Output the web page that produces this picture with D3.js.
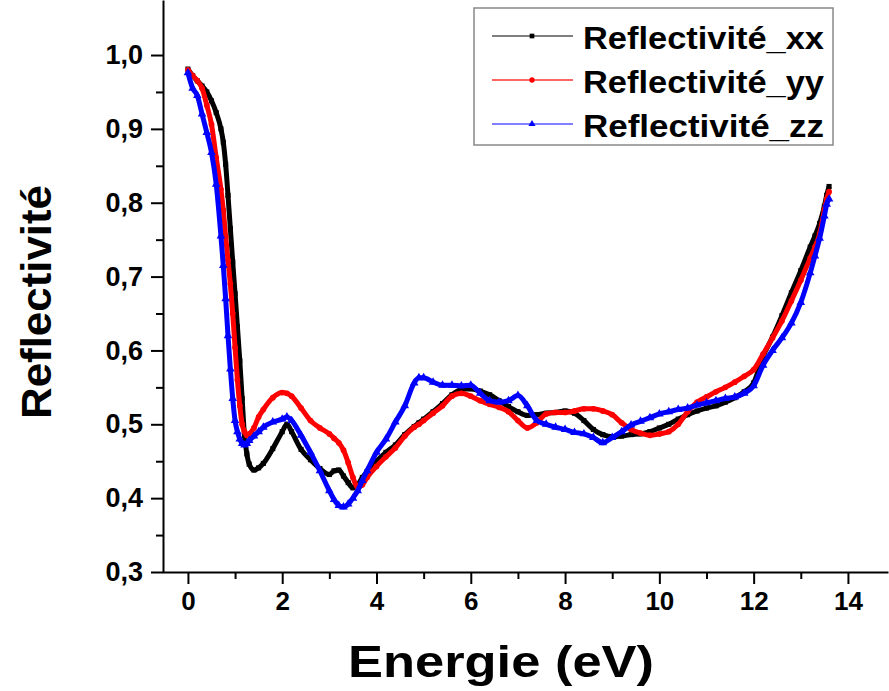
<!DOCTYPE html>
<html><head><meta charset="utf-8">
<script src="https://cdn.jsdelivr.net/npm/d3@7"></script>
<style>
body{margin:0;background:#fff}
text{font-family:"Liberation Sans",Arial,Helvetica,sans-serif;font-weight:bold;fill:#000}
</style></head><body>
<svg id="c" width="889" height="691"></svg>
<script>
const energy=[0,0.1,0.2,0.3,0.4,0.5,0.6,0.7,0.75,0.8,0.85,0.9,0.95,1.0,1.05,1.1,1.15,1.2,1.25,1.3,1.4,1.5,1.6,1.8,2.0,2.1,2.2,2.4,2.6,2.8,3.0,3.1,3.2,3.3,3.4,3.5,3.6,3.7,3.8,4.0,4.2,4.4,4.6,4.8,4.9,5.0,5.2,5.4,5.6,5.8,6.0,6.2,6.4,6.6,6.8,7.0,7.2,7.4,7.6,7.8,8.0,8.2,8.4,8.6,8.8,9.0,9.2,9.4,9.6,9.8,10.0,10.2,10.4,10.6,10.8,11.0,11.2,11.4,11.6,11.8,12.0,12.2,12.4,12.6,12.8,13.0,13.2,13.3,13.4,13.5,13.55,13.6];
const reflXX=[0.981,0.972,0.965,0.958,0.950,0.938,0.922,0.900,0.882,0.852,0.810,0.765,0.720,0.677,0.632,0.586,0.535,0.485,0.460,0.446,0.438,0.441,0.447,0.467,0.490,0.500,0.490,0.466,0.452,0.440,0.432,0.437,0.438,0.430,0.421,0.414,0.418,0.428,0.436,0.450,0.462,0.472,0.486,0.497,0.502,0.507,0.517,0.528,0.540,0.547,0.548,0.545,0.540,0.532,0.524,0.517,0.512,0.513,0.515,0.516,0.518,0.515,0.505,0.493,0.486,0.483,0.484,0.486,0.487,0.490,0.495,0.500,0.507,0.513,0.518,0.522,0.525,0.530,0.536,0.544,0.556,0.592,0.618,0.647,0.678,0.708,0.740,0.755,0.772,0.795,0.810,0.822];
const reflYY=[0.980,0.972,0.965,0.955,0.932,0.906,0.861,0.818,0.790,0.754,0.722,0.690,0.650,0.604,0.560,0.525,0.500,0.490,0.485,0.487,0.495,0.510,0.520,0.536,0.543,0.542,0.538,0.522,0.505,0.495,0.487,0.481,0.475,0.465,0.448,0.428,0.415,0.418,0.428,0.443,0.456,0.468,0.484,0.496,0.500,0.505,0.515,0.525,0.538,0.542,0.538,0.532,0.527,0.523,0.517,0.505,0.495,0.502,0.514,0.516,0.516,0.518,0.521,0.521,0.518,0.513,0.502,0.493,0.488,0.485,0.487,0.490,0.500,0.517,0.530,0.537,0.544,0.550,0.557,0.565,0.574,0.595,0.617,0.640,0.667,0.695,0.725,0.740,0.758,0.790,0.805,0.815];
const reflZZ=[0.976,0.955,0.945,0.920,0.895,0.868,0.825,0.755,0.715,0.670,0.620,0.575,0.535,0.505,0.490,0.480,0.474,0.472,0.474,0.478,0.484,0.490,0.496,0.503,0.507,0.510,0.505,0.485,0.462,0.437,0.410,0.398,0.390,0.388,0.392,0.400,0.410,0.424,0.437,0.462,0.480,0.503,0.525,0.556,0.563,0.563,0.557,0.553,0.553,0.552,0.553,0.542,0.532,0.530,0.532,0.539,0.525,0.505,0.500,0.496,0.493,0.489,0.487,0.482,0.475,0.482,0.490,0.499,0.504,0.509,0.514,0.517,0.520,0.522,0.526,0.529,0.532,0.535,0.537,0.542,0.552,0.580,0.600,0.617,0.637,0.665,0.705,0.728,0.752,0.782,0.798,0.805];
const seriesNames=["Reflectivité_xx","Reflectivité_yy","Reflectivité_zz"];
const seriesColors=["#000000","#ff0000","#0000ff"];
const seriesValues=[reflXX,reflYY,reflZZ];
const seriesSymbols=[d3.symbolSquare,d3.symbolCircle,d3.symbolTriangle];
const xTicks=[0,2,4,6,8,10,12,14];
const xMinorTicks=[1,3,5,7,9,11,13];
const yTicks=[0.3,0.4,0.5,0.6,0.7,0.8,0.9,1.0];
const yMinorTicks=[0.35,0.45,0.55,0.65,0.75,0.85,0.95];
const xTitle="Energie (eV)";
const yTitle="Reflectivité";

const svg=d3.select("#c");
const x=d3.scaleLinear().domain([-0.55,14.85]).range([162,888]);
const y=d3.scaleLinear().domain([0.3,1.0745]).range([572,0]);
const fmt=d3.formatLocale({decimal:",",thousands:" ",grouping:[3],currency:["",""]}).format(".1f");

// axes
const gy=svg.append("g").attr("class","yax").attr("transform","translate(163,0)");
gy.call(d3.axisLeft(y).tickValues(yTicks).tickFormat(fmt).tickSize(12).tickSizeOuter(0).tickPadding(8));
const gym=svg.append("g").attr("transform","translate(163,0)");
gym.call(d3.axisLeft(y).tickValues(yMinorTicks).tickFormat("").tickSize(7).tickSizeOuter(0));
gym.select(".domain").remove();
const gx=svg.append("g").attr("class","xax").attr("transform","translate(0,572)");
gx.call(d3.axisBottom(x).tickValues(xTicks).tickFormat(d3.format("d")).tickSize(12).tickSizeOuter(0).tickPadding(8));
const gxm=svg.append("g").attr("transform","translate(0,572)");
gxm.call(d3.axisBottom(x).tickValues(xMinorTicks).tickFormat("").tickSize(7).tickSizeOuter(0));
gxm.select(".domain").remove();
svg.selectAll(".domain").attr("stroke","#000").attr("stroke-width",2);
svg.selectAll(".tick line").attr("stroke","#000").attr("stroke-width",2);
svg.selectAll(".tick text").attr("font-family",null).attr("fill","#000");
gy.selectAll(".tick text").attr("font-size",27);
gx.selectAll(".tick text").attr("font-size",26);

svg.append("text").attr("x",501).attr("y",677).attr("text-anchor","middle").attr("font-size",45)
  .attr("textLength",306).attr("lengthAdjust","spacingAndGlyphs").text(xTitle);
svg.append("text").attr("transform","translate(51,302) rotate(-90)").attr("text-anchor","middle").attr("font-size",43)
  .attr("textLength",234).attr("lengthAdjust","spacingAndGlyphs").text(yTitle);

// series
const line=d3.line().x((d,i)=>x(energy[i])).y(d=>y(d)).curve(d3.curveMonotoneX);
seriesValues.forEach((vals,k)=>{
  const g=svg.append("g");
  g.append("path").datum(vals).attr("d",line).attr("fill","none").attr("stroke",seriesColors[k]).attr("stroke-width",5).attr("stroke-linejoin","round");
  g.selectAll("path.m").data(vals).enter().append("path").attr("class","m")
    .attr("d",d3.symbol().type(seriesSymbols[k]).size(k===2?32:26))
    .attr("transform",(d,i)=>`translate(${x(energy[i])},${y(d)})`)
    .attr("fill",seriesColors[k]);
});

// legend
const lg=svg.append("g");
lg.append("rect").attr("x",474).attr("y",8).attr("width",359).attr("height",137).attr("fill","#fff").attr("stroke","#888").attr("stroke-width",1.5);
seriesNames.forEach((n,k)=>{
  const yy=36+k*44;
  lg.append("line").attr("x1",492).attr("x2",573).attr("y1",yy).attr("y2",yy).attr("stroke",seriesColors[k]).attr("stroke-width",k===1?2:1.2).attr("stroke-opacity",k===1?0.6:1);
  lg.append("path").attr("d",d3.symbol().type(seriesSymbols[k]).size(22)).attr("transform",`translate(532,${yy})`).attr("fill",seriesColors[k]);
  lg.append("text").attr("x",583).attr("y",yy+12.5).attr("font-size",31)
    .attr("textLength",241).attr("lengthAdjust","spacingAndGlyphs").text(n);
});
</script></body></html>
